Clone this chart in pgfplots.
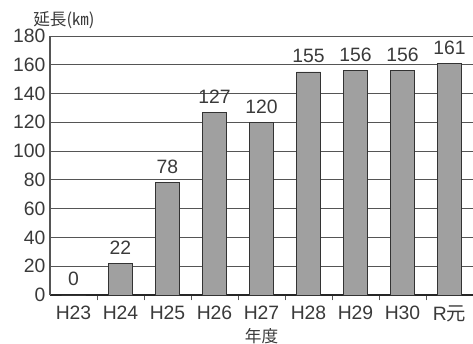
\documentclass[border=0pt]{standalone}
\usepackage{fontspec}
\setmainfont{Liberation Sans}
\newfontfamily\cjk{Noto Sans CJK JP}
\usepackage{pgfplots}
\pgfplotsset{compat=1.18}
\definecolor{txt}{HTML}{3A3A3A}
\definecolor{barfill}{HTML}{A0A0A0}
\definecolor{gridc}{HTML}{555555}
\begin{document}
\begin{tikzpicture}[x=1pt,y=1pt]
\useasboundingbox (0,0) rectangle (354.75,257.25);
\begin{axis}[
  at={(37.5pt,36pt)}, anchor=south west,
  scale only axis, width=317.25pt, height=194.25pt,
  xmin=-0.5, xmax=8.5, ymin=0, ymax=180,
  ytick={0,20,...,180},
  xtick={0,...,8},
  xticklabels={H23,H24,H25,H26,H27,H28,H29,H30,R{\cjk 元}},
  minor x tick num=1,
  major tick length=0pt,
  minor tick length=4pt,
  tick align=inside,
  axis x line*=bottom, axis y line*=left,
  axis line style={gridc, line width=0.8pt},
  x axis line style={-, black!85, line width=1.1pt},
  y axis line style={-},
  every tick/.style={gridc, line width=0.6pt},
  ymajorgrids,
  grid style={gridc, line width=0.6pt},
  ticklabel style={font=\fontsize{14.5}{14.5}\selectfont, text=txt},
  /pgf/number format/assume math mode=true,
  yticklabel style={xshift=0pt},
  xticklabel style={yshift=-4.5pt},
  xlabel={\cjk 年度}, xlabel style={font=\fontsize{12.5}{12.5}\selectfont, text=txt, yshift=2pt},
  ybar, bar width=18pt,
  nodes near coords,
  nodes near coords style={font=\fontsize{14.5}{14.5}\selectfont, text=txt, inner sep=1.5pt, yshift=5pt},
  clip=false,
]
\addplot[fill=barfill, draw=black!80, line width=0.7pt] coordinates {
(0,0) (1,22) (2,78) (3,127) (4,120) (5,155) (6,156) (7,156) (8,161)};
\node[anchor=south west, font=\fontsize{12.5}{12.5}\selectfont\cjk, text=txt, inner sep=0pt] at (rel axis cs:0,1) [xshift=-12.75pt, yshift=5pt] {延長(㎞)};
\end{axis}
\end{tikzpicture}
\end{document}
